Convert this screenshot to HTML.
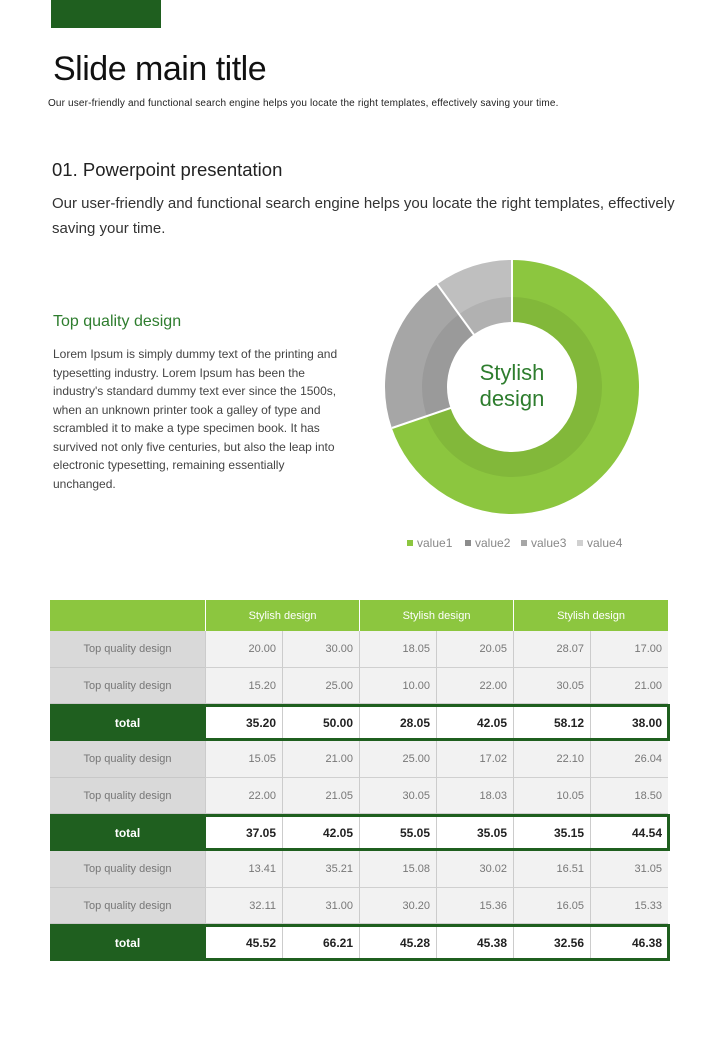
<!DOCTYPE html><html><head><style>
body{margin:0;width:720px;height:1040px;background:#fff;position:relative;font-family:"Liberation Sans",sans-serif;overflow:hidden}
.a{position:absolute;white-space:nowrap}
.c{position:absolute;box-sizing:border-box;font-size:11px;color:#777;display:flex;align-items:center}
</style></head><body>
<div class="a" style="left:51px;top:0;width:110px;height:28px;background:#1f5f1f"></div>
<div class="a" style="left:53px;top:50px;font-size:34px;color:#111;letter-spacing:-0.5px">Slide main title</div>
<div class="a" style="left:48px;top:98px;font-size:10px;color:#222;letter-spacing:0.15px">Our user-friendly and functional search engine helps you locate the right templates, effectively saving your time.</div>
<div class="a" style="left:52px;top:159px;font-size:18.5px;color:#222">01. Powerpoint presentation</div>
<div class="a" style="left:52px;top:191px;font-size:15px;color:#333;line-height:25px">Our user-friendly and functional search engine helps you locate the right templates, effectively<br>saving your time.</div>
<div class="a" style="left:53px;top:313px;font-size:16px;color:#2e7d2e">Top quality design</div>
<div class="a" style="left:53px;top:345px;font-size:12px;color:#444;line-height:18.5px;white-space:normal;width:295px">Lorem Ipsum is simply dummy text of the printing and typesetting industry. Lorem Ipsum has been the industry's standard dummy text ever since the 1500s, when an unknown printer took a galley of type and scrambled it to make a type specimen book. It has survived not only five centuries, but also the leap into electronic typesetting, remaining essentially unchanged.</div>
<svg class="a" style="left:0;top:0" width="720" height="600">
<g transform="rotate(-90 512 387)">
<circle cx="512" cy="387" r="96" fill="none" stroke="#8cc63f" stroke-width="62" stroke-dasharray="420.6 603.2"/>
<circle cx="512" cy="387" r="96" fill="none" stroke="#a6a6a6" stroke-width="62" stroke-dasharray="0 420.6 122.3 603.2"/>
<circle cx="512" cy="387" r="96" fill="none" stroke="#bfbfbf" stroke-width="62" stroke-dasharray="0 542.9 60.3 603.2"/>
<circle cx="512" cy="387" r="77.5" fill="none" stroke="#000" stroke-opacity="0.07" stroke-width="25"/>
</g>
<line x1="512" y1="387" x2="512" y2="259" stroke="#fff" stroke-width="2"/>
<line x1="512" y1="387" x2="392" y2="428" stroke="#fff" stroke-width="2"/>
<line x1="512" y1="387" x2="437" y2="284" stroke="#fff" stroke-width="2"/>
<circle cx="512" cy="387" r="64" fill="#fff"/>
<text x="512" y="380" text-anchor="middle" font-size="22" fill="#2e7d2e" font-family="Liberation Sans">Stylish</text>
<text x="512" y="406" text-anchor="middle" font-size="22" fill="#2e7d2e" font-family="Liberation Sans">design</text>
<rect x="407" y="540" width="6" height="6" fill="#8cc63f"/><text x="417" y="547" font-size="12" fill="#888">value1</text>
<rect x="465" y="540" width="6" height="6" fill="#8c8c8c"/><text x="475" y="547" font-size="12" fill="#888">value2</text>
<rect x="521" y="540" width="6" height="6" fill="#a6a6a6"/><text x="531" y="547" font-size="12" fill="#888">value3</text>
<rect x="577" y="540" width="6" height="6" fill="#d0d0d0"/><text x="587" y="547" font-size="12" fill="#888">value4</text>
</svg>
<div id="t"></div>
<script>
var xs=[50,205,282,359,436,513,590,668];
var ys=[600,631,668,704,741,778,814,851,888,924,961];
var data=[["20.00","30.00","18.05","20.05","28.07","17.00"],["15.20","25.00","10.00","22.00","30.05","21.00"],["35.20","50.00","28.05","42.05","58.12","38.00"],["15.05","21.00","25.00","17.02","22.10","26.04"],["22.00","21.05","30.05","18.03","10.05","18.50"],["37.05","42.05","55.05","35.05","35.15","44.54"],["13.41","35.21","15.08","30.02","16.51","31.05"],["32.11","31.00","30.20","15.36","16.05","15.33"],["45.52","66.21","45.28","45.38","32.56","46.38"]];
var h='';
h+='<div class="c" style="left:50px;top:600px;width:618px;height:31px;background:#8cc63f"></div>';
for(var k=0;k<3;k++){h+='<div class="c" style="left:'+xs[1+2*k]+'px;top:600px;width:'+(xs[3+2*k]-xs[1+2*k])+'px;height:31px;color:#fff;justify-content:center;border-left:1px solid #fff">Stylish design</div>';}
for(var r=0;r<9;r++){var y=ys[r+1],hh=ys[r+2]-y,tot=(r%3==2);
if(tot){h+='<div class="c" style="left:50px;top:'+y+'px;width:155px;height:'+hh+'px;background:#1f5f1f;color:#fff;font-weight:bold;font-size:12px;justify-content:center">total</div>';
h+='<div class="c" style="left:203px;top:'+y+'px;width:467px;height:'+hh+'px;border:3px solid #1f5f1f;background:#fff"></div>';}
else h+='<div class="c" style="left:50px;top:'+y+'px;width:155px;height:'+hh+'px;background:#d9d9d9;justify-content:center;border-bottom:1px solid #c8c8c8">Top quality design</div>';
for(var c=0;c<6;c++){h+='<div class="c" style="left:'+xs[c+1]+'px;top:'+y+'px;width:'+(xs[c+2]-xs[c+1])+'px;height:'+hh+'px;justify-content:flex-end;padding-right:6px;border-left:1px solid #ccc;'+(tot?'color:#222;font-weight:bold;font-size:12px;':'background:#f2f2f2;border-bottom:1px solid #d0d0d0;')+'">'+data[r][c]+'</div>';}
if(tot)h+='<div class="c" style="left:203px;top:'+y+'px;width:467px;height:'+hh+'px;border:3px solid #1f5f1f"></div>';}
document.getElementById('t').innerHTML=h;
</script>
</body></html>
